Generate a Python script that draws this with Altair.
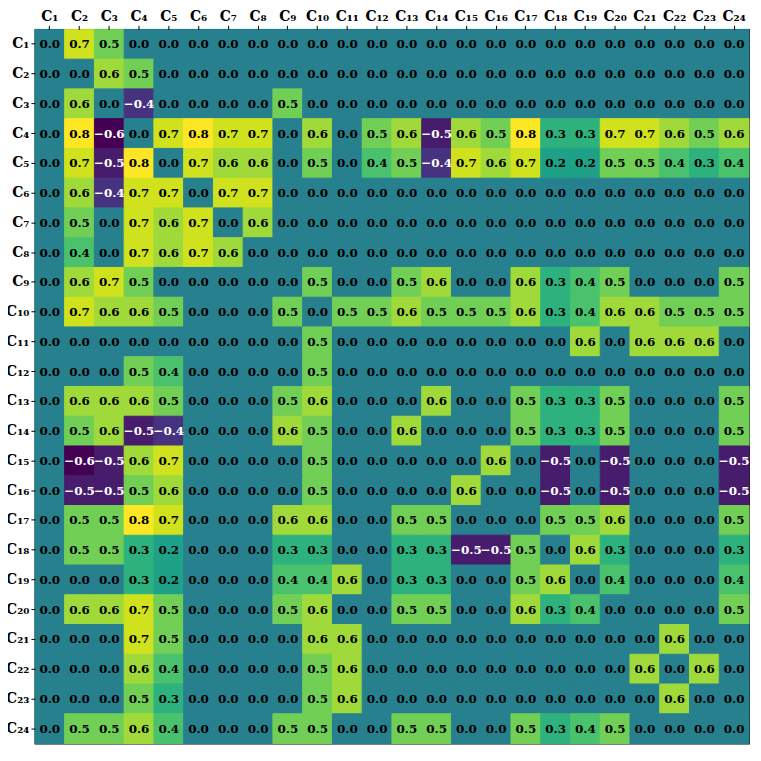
import altair as alt
import pandas as pd

labels = ["C" + "".join("₀₁₂₃₄₅₆₇₈₉"[int(d)] for d in str(i)) for i in range(1, 25)]

matrix = [
    [0, 0.7, 0.5, 0, 0, 0, 0, 0, 0, 0, 0, 0, 0, 0, 0, 0, 0, 0, 0, 0, 0, 0, 0, 0],
    [0, 0, 0.6, 0.5, 0, 0, 0, 0, 0, 0, 0, 0, 0, 0, 0, 0, 0, 0, 0, 0, 0, 0, 0, 0],
    [0, 0.6, 0, -0.4, 0, 0, 0, 0, 0.5, 0, 0, 0, 0, 0, 0, 0, 0, 0, 0, 0, 0, 0, 0, 0],
    [0, 0.8, -0.6, 0, 0.7, 0.8, 0.7, 0.7, 0, 0.6, 0, 0.5, 0.6, -0.5, 0.6, 0.5, 0.8, 0.3, 0.3, 0.7, 0.7, 0.6, 0.5, 0.6],
    [0, 0.7, -0.5, 0.8, 0, 0.7, 0.6, 0.6, 0, 0.5, 0, 0.4, 0.5, -0.4, 0.7, 0.6, 0.7, 0.2, 0.2, 0.5, 0.5, 0.4, 0.3, 0.4],
    [0, 0.6, -0.4, 0.7, 0.7, 0, 0.7, 0.7, 0, 0, 0, 0, 0, 0, 0, 0, 0, 0, 0, 0, 0, 0, 0, 0],
    [0, 0.5, 0, 0.7, 0.6, 0.7, 0, 0.6, 0, 0, 0, 0, 0, 0, 0, 0, 0, 0, 0, 0, 0, 0, 0, 0],
    [0, 0.4, 0, 0.7, 0.6, 0.7, 0.6, 0, 0, 0, 0, 0, 0, 0, 0, 0, 0, 0, 0, 0, 0, 0, 0, 0],
    [0, 0.6, 0.7, 0.5, 0, 0, 0, 0, 0, 0.5, 0, 0, 0.5, 0.6, 0, 0, 0.6, 0.3, 0.4, 0.5, 0, 0, 0, 0.5],
    [0, 0.7, 0.6, 0.6, 0.5, 0, 0, 0, 0.5, 0, 0.5, 0.5, 0.6, 0.5, 0.5, 0.5, 0.6, 0.3, 0.4, 0.6, 0.6, 0.5, 0.5, 0.5],
    [0, 0, 0, 0, 0, 0, 0, 0, 0, 0.5, 0, 0, 0, 0, 0, 0, 0, 0, 0.6, 0, 0.6, 0.6, 0.6, 0],
    [0, 0, 0, 0.5, 0.4, 0, 0, 0, 0, 0.5, 0, 0, 0, 0, 0, 0, 0, 0, 0, 0, 0, 0, 0, 0],
    [0, 0.6, 0.6, 0.6, 0.5, 0, 0, 0, 0.5, 0.6, 0, 0, 0, 0.6, 0, 0, 0.5, 0.3, 0.3, 0.5, 0, 0, 0, 0.5],
    [0, 0.5, 0.6, -0.5, -0.4, 0, 0, 0, 0.6, 0.5, 0, 0, 0.6, 0, 0, 0, 0.5, 0.3, 0.3, 0.5, 0, 0, 0, 0.5],
    [0, -0.6, -0.5, 0.6, 0.7, 0, 0, 0, 0, 0.5, 0, 0, 0, 0, 0, 0.6, 0, -0.5, 0, -0.5, 0, 0, 0, -0.5],
    [0, -0.5, -0.5, 0.5, 0.6, 0, 0, 0, 0, 0.5, 0, 0, 0, 0, 0.6, 0, 0, -0.5, 0, -0.5, 0, 0, 0, -0.5],
    [0, 0.5, 0.5, 0.8, 0.7, 0, 0, 0, 0.6, 0.6, 0, 0, 0.5, 0.5, 0, 0, 0, 0.5, 0.5, 0.6, 0, 0, 0, 0.5],
    [0, 0.5, 0.5, 0.3, 0.2, 0, 0, 0, 0.3, 0.3, 0, 0, 0.3, 0.3, -0.5, -0.5, 0.5, 0, 0.6, 0.3, 0, 0, 0, 0.3],
    [0, 0, 0, 0.3, 0.2, 0, 0, 0, 0.4, 0.4, 0.6, 0, 0.3, 0.3, 0, 0, 0.5, 0.6, 0, 0.4, 0, 0, 0, 0.4],
    [0, 0.6, 0.6, 0.7, 0.5, 0, 0, 0, 0.5, 0.6, 0, 0, 0.5, 0.5, 0, 0, 0.6, 0.3, 0.4, 0, 0, 0, 0, 0.5],
    [0, 0, 0, 0.7, 0.5, 0, 0, 0, 0, 0.6, 0.6, 0, 0, 0, 0, 0, 0, 0, 0, 0, 0, 0.6, 0, 0],
    [0, 0, 0, 0.6, 0.4, 0, 0, 0, 0, 0.5, 0.6, 0, 0, 0, 0, 0, 0, 0, 0, 0, 0.6, 0, 0.6, 0],
    [0, 0, 0, 0.5, 0.3, 0, 0, 0, 0, 0.5, 0.6, 0, 0, 0, 0, 0, 0, 0, 0, 0, 0, 0.6, 0, 0],
    [0, 0.5, 0.5, 0.6, 0.4, 0, 0, 0, 0.5, 0.5, 0, 0, 0.5, 0.5, 0, 0, 0.5, 0.3, 0.4, 0.5, 0, 0, 0, 0],
]

rows = []
for i, r in enumerate(labels):
    for j, c in enumerate(labels):
        v = matrix[i][j]
        txt = f"{v:.1f}".replace("-", "−")
        rows.append({"row": r, "col": c, "v": v, "txt": txt, "neg": v < 0})
df = pd.DataFrame(rows)

axis_common = dict(domain=False, grid=False, tickColor="black", tickSize=4,
                   labelFont="DejaVu Serif", labelFontSize=14, labelFontWeight="bold",
                   labelColor="black", labelPadding=2)

base = alt.Chart(df).encode(
    x=alt.X("col:O", sort=labels, title=None,
            axis=alt.Axis(orient="top", labelAngle=0, **axis_common)),
    y=alt.Y("row:O", sort=labels, title=None, axis=alt.Axis(**axis_common)),
)

cscale = alt.Scale(scheme="viridis", domain=[-0.6, 0.8])
rect = base.mark_rect(strokeWidth=1).encode(
    color=alt.Color("v:Q", scale=cscale, legend=None),
    stroke=alt.Stroke("v:Q", scale=cscale, legend=None),
)

text = base.mark_text(font="DejaVu Serif", fontSize=12, fontWeight="bold").encode(
    text="txt:N",
    color=alt.condition("datum.neg", alt.value("white"), alt.value("black")),
)

chart = (rect + text).properties(
    width=717, height=717,
    autosize=alt.AutoSizeParams(type="none"),
    padding={"left": 27, "top": 20, "right": 4, "bottom": 4},
).configure_view(stroke="black", strokeWidth=1.2).configure_scale(bandPaddingInner=0)

chart.save("out.html", embed_options={"renderer": "svg", "actions": False})
